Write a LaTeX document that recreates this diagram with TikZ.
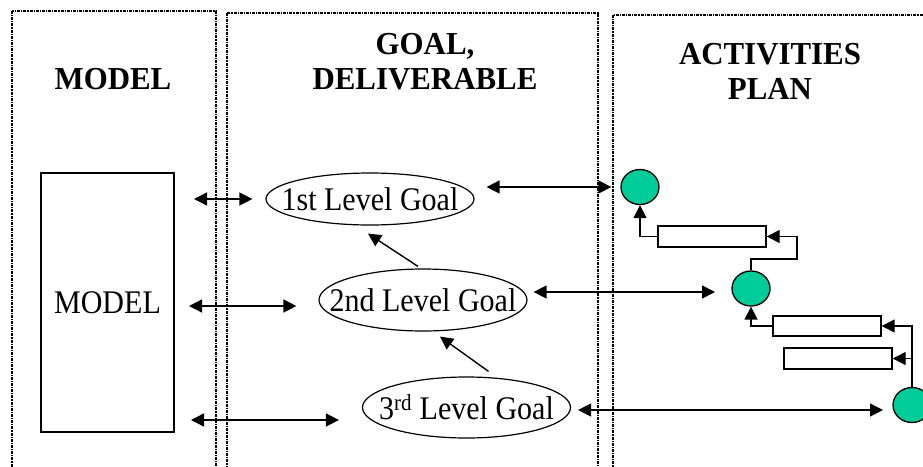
\documentclass[tikz,border=0pt]{standalone}
\usepackage{fontspec}
\setmainfont{Liberation Serif}
\newfontfamily\bodyfont[FakeStretch=0.91]{Liberation Serif}
\newfontfamily\hdrfont[FakeStretch=0.965]{Liberation Serif}
\usetikzlibrary{shapes.geometric,arrows.meta,calc}
\definecolor{actgreen}{RGB}{0,204,153}
\begin{document}
\begin{tikzpicture}[x=1pt,y=-1pt,
  panel/.style={draw, line width=1.7pt, dash pattern=on 3pt off 1pt on 1.2pt off 1pt},
  hdr/.style={font=\hdrfont\fontsize{32}{35}\bfseries\selectfont, align=center, inner sep=0pt, anchor=north},
  txt/.style={font=\bodyfont\fontsize{33}{36}\selectfont, inner sep=0pt},
  goal/.style={draw, ellipse, line width=1.2pt, minimum width=208pt, inner sep=0pt, label={[txt]center:#1}},
  box/.style={draw, line width=1.4pt, rectangle, inner sep=0pt},
  act/.style={draw, line width=1.3pt, ellipse, fill=actgreen, minimum width=38pt, minimum height=35pt, inner sep=0pt},
  task/.style={box, minimum width=108pt, minimum height=21pt},
  arr/.style={line width=1.4pt, -{Triangle[length=13pt,width=13pt]}},
  dbl/.style={line width=1.4pt, {Triangle[length=13pt,width=13pt]}-{Triangle[length=13pt,width=13pt]}}
]
\useasboundingbox (0,0) rectangle (923,466);
\clip (0,0) rectangle (923,466);

% panels
\draw[panel] (12,11) rectangle (216,490);
\draw[panel] (227,13) rectangle (598,490);
\draw[panel] (613,15) rectangle (950,490);

% headers
\node[hdr] (h1) at (113,68) {MODEL};
\node[hdr] (h2) at (425,33) {GOAL,\\DELIVERABLE};
\node[hdr] (h3) at (770,43) {ACTIVITIES\\PLAN};

% model box
\node[box, minimum width=133pt, minimum height=259pt] (model) at (107.5,302.5) {};
\node[txt] (modeltxt) at (107.5,303) {MODEL};

% goals
\node[goal={1st Level Goal}, minimum height=52pt] (g1) at (370,199) {};
\node[goal={2nd Level Goal}, minimum height=62pt] (g2) at (423,300) {};
\node[goal={3\textsuperscript{rd} Level Goal}, minimum height=61pt] (g3) at (466.5,407.5) {};

% activities
\node[act] (c1) at (640,187) {};
\node[act] (c2) at (751,288.5) {};
\node[act] (c3) at (912,405) {};
\node[task] (ra) at (712,236.5) {};
\node[task, minimum height=20pt] (rb) at (827,326) {};
\node[task] (rc) at (838,358.5) {};

% free ends
\coordinate (a1) at (194,199);
\coordinate (a2) at (189,306);
\coordinate (a3) at (191,420);
\coordinate (b2) at (715,292);
\coordinate (b3) at (883,410);
\coordinate (k1) at (797,259);

% model <-> goals
\draw[dbl, shorten >=13pt] (a1) -- (g1.west);
\draw[dbl, shorten >=22pt] (a2) -- (g2.west |- a2);
\draw[dbl, shorten >=23pt] (a3) -- (g3.west |- a3);

% goals <-> activities
\draw[dbl, shorten <=12pt, shorten >=9pt] (g1.east |- c1.west) -- (c1.west);
\draw[dbl, shorten <=6pt] (g2.east |- b2) -- (b2);
\draw[dbl, shorten <=7pt] (g3.east |- b3) -- (b3);

% goal hierarchy
\draw[arr] ($(g2.north)+(-5,-2)$) -- ($(g1.south)+(-2,8)$);
\draw[arr] ($(g3.north)+(22,-5)$) -- ($(g2.south)+(17,5)$);

% activity links
\draw[arr] (ra.west) -| (c1.south);
\draw[arr] (c2.north) |- (k1) |- (ra.east);
\draw[arr] (rb.west) -| (c2.south);
\draw[arr] (c3.north) |- (rb.east);
\draw[arr] (c3.north |- rc.east) -- (rc.east);
\end{tikzpicture}
\end{document}
